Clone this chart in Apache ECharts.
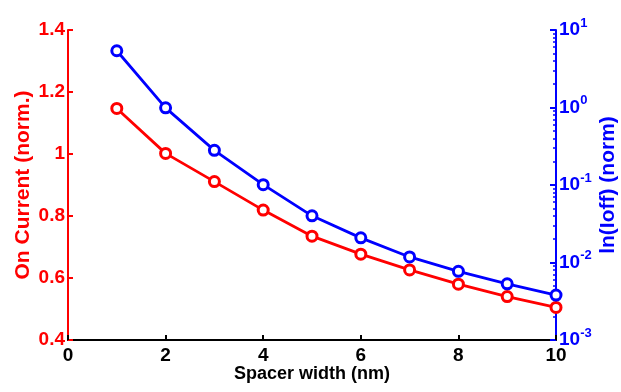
<!DOCTYPE html>
<html><head><meta charset="utf-8">
<script src="https://cdn.jsdelivr.net/npm/echarts@6/dist/echarts.min.js"></script>
<style>html,body{margin:0;padding:0;background:#fff}#c{width:621px;height:392px}</style>
</head><body><div id="c"></div>
<script>
const spacerWidth = [1,2,3,4,5,6,7,8,9,10];
const onCurrent = [1.147,1.002,0.911,0.819,0.735,0.677,0.626,0.580,0.540,0.505];
const ioff = [5.4,0.99,0.28,0.101,0.040,0.0208,0.0118,0.0077,0.0053,0.0038];
const xTicks = [0,2,4,6,8,10];
const leftTicks = [0.4,0.6,0.8,1.0,1.2,1.4];
const rightTicks = [0.001,0.01,0.1,1,10];
const rightMinor = [];
[0.001,0.01,0.1,1].forEach(d=>{for(let k=2;k<=9;k++) rightMinor.push(+(d*k).toPrecision(3));});

const FONT = '"Liberation Sans", Arial, sans-serif';
const chart = echarts.init(document.getElementById('c'));
chart.setOption({
  animation:false,
  grid:{left:68,right:65,top:30,bottom:52,containLabel:false,outerBoundsMode:'none'},
  xAxis:{type:'value',min:0,max:10,interval:2,nameMoveOverlap:false,
    axisLine:{show:true,lineStyle:{color:'#000',width:2}},
    axisTick:{show:true,inside:true,length:5,lineStyle:{color:'#000',width:2}},
    splitLine:{show:false},
    axisLabel:{color:'#000',fontWeight:'bold',fontSize:19,fontFamily:FONT,margin:6},
    name:'Spacer width (nm)',nameLocation:'middle',nameGap:25,
    nameTextStyle:{color:'#000',fontWeight:'bold',fontSize:18,fontFamily:FONT}
  },
  yAxis:[
    {type:'value',min:0.4,max:1.4,interval:0.2,position:'left',nameMoveOverlap:false,
     axisLine:{show:true,lineStyle:{color:'#ff0000',width:2}},
     axisTick:{show:true,inside:true,length:5,lineStyle:{color:'#ff0000',width:2}},
     splitLine:{show:false},
     axisLabel:{color:'#ff0000',fontWeight:'bold',fontSize:19,fontFamily:FONT,margin:3,
       formatter:v=>{const r=Math.round(v*10)/10;return r===1?'1':String(r);}},
     name:'On Current (norm.)',nameLocation:'middle',nameGap:34,nameRotate:90,
     nameTextStyle:{color:'#ff0000',fontWeight:'bold',fontSize:21,fontFamily:FONT}
    },
    {type:'log',logBase:10,min:0.001,max:10,position:'right',nameMoveOverlap:false,
     axisLine:{show:true,lineStyle:{color:'#0000ff',width:2}},
     axisTick:{show:true,inside:true,length:6,lineStyle:{color:'#0000ff',width:2}},
     splitLine:{show:false},
     axisLabel:{fontFamily:FONT,margin:3,
       formatter:v=>{const e=Math.round(Math.log10(v));return '{b|10}{s|'+e+'}';},
       rich:{b:{color:'#0000ff',fontWeight:'bold',fontSize:19,fontFamily:FONT},
             s:{color:'#0000ff',fontWeight:'bold',fontSize:13,fontFamily:FONT,padding:[0,0,14,0]}}},
     name:'ln(Ioff) (norm)',nameLocation:'middle',nameGap:42,nameRotate:90,
     nameTextStyle:{color:'#0000ff',fontWeight:'bold',fontSize:21,fontFamily:FONT}
    },
    {type:'log',logBase:10,min:0.001,max:10,position:'right',
     axisLine:{show:false},
     axisTick:{show:true,inside:true,length:3,customValues:rightMinor,lineStyle:{color:'#0000ff',width:1.5}},
     axisLabel:{show:false},splitLine:{show:false}
    }
  ],
  series:[
    {type:'line',yAxisIndex:0,data:spacerWidth.map((x,i)=>[x,onCurrent[i]]),
     symbol:'circle',symbolSize:10,
     lineStyle:{color:'#ff0000',width:2.8},
     itemStyle:{color:'#ffffff',borderColor:'#ff0000',borderWidth:3}},
    {type:'line',yAxisIndex:1,data:spacerWidth.map((x,i)=>[x,ioff[i]]),
     symbol:'circle',symbolSize:10,
     lineStyle:{color:'#0000ff',width:2.8},
     itemStyle:{color:'#ffffff',borderColor:'#0000ff',borderWidth:3}}
  ]
});
</script></body></html>
